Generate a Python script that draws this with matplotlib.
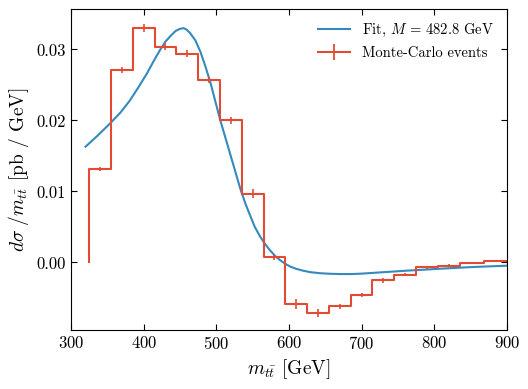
import matplotlib
matplotlib.use("Agg")
import matplotlib.pyplot as plt
from matplotlib.lines import Line2D
import numpy as np

plt.rcParams['font.family'] = 'cmr10'
plt.rcParams['mathtext.fontset'] = 'cm'
plt.rcParams['axes.formatter.use_mathtext'] = True

# histogram of Monte-Carlo events
bin_edges = [325, 355, 385, 415, 445, 475, 505, 535, 565, 595, 625, 655,
             685, 715, 745, 775, 805, 835, 868, 900]
mc_values = [0.0132, 0.0271, 0.0330, 0.0304, 0.0294, 0.0257, 0.0200, 0.0097,
             0.0007, -0.0059, -0.0071, -0.0062, -0.00455, -0.00253, -0.00173,
             -0.0007, -0.00046, -0.00014, 0.00014]
mc_errors = [0.0003, 0.0004, 0.0006, 0.0005, 0.0005, 0.0004, 0.0005, 0.0006,
             0.0004, 0.0007, 0.0006, 0.0004, 0.0003, 0.0003, 0.0002, 0.0002,
             0.0002, 0.0001, 0.0001]

# fitted curve
fit_x = [320, 337, 354, 368, 381, 393, 405, 414, 423, 430, 437, 444, 450,
         455, 459, 464, 471, 478, 485, 492, 505, 519, 533, 540, 547, 553,
         560, 567, 574, 581, 588, 595, 602, 610, 620, 630, 643, 657, 671,
         685, 698, 712, 726, 746, 767, 788, 808, 830, 850, 875, 900]
fit_y = [0.0163, 0.0179, 0.0196, 0.0211, 0.0228, 0.0247, 0.0267, 0.0284,
         0.0300, 0.0311, 0.0319, 0.0326, 0.0329, 0.0330, 0.0328, 0.0323,
         0.0313, 0.0297, 0.0276, 0.0253, 0.0202, 0.0153, 0.0104, 0.0083,
         0.0065, 0.0050, 0.0037, 0.0026, 0.0017, 0.0009, 0.0003, -0.0002,
         -0.0006, -0.0009, -0.00118, -0.00138, -0.00152, -0.0016, -0.00164,
         -0.00164, -0.00159, -0.0015, -0.0014, -0.00127, -0.00113,
         -0.00101, -0.00089, -0.00077, -0.00066, -0.00056, -0.00046]

blue = '#348ABD'
red = '#E24A33'

fig = plt.figure(figsize=(5.28, 3.89), dpi=100)
ax = fig.add_axes([0.1345, 0.152, 0.8255, 0.825])

ax.plot(fit_x, fit_y, color=blue, lw=1.5)

edges = np.array(bin_edges)
centers = 0.5 * (edges[:-1] + edges[1:])
ax.step(edges, [0] + mc_values, where='pre', color=red, lw=1.5)
ax.errorbar(centers, mc_values, yerr=mc_errors, fmt='none', ecolor=red,
            elinewidth=1.2)

handles = [Line2D([], [], color=blue, lw=1.5),
           Line2D([], [], color=red, lw=1.5, marker='|', markersize=11,
                  markeredgewidth=1.3)]
ax.legend(handles, [r'Fit, $M$ = 482.8 GeV', 'Monte-Carlo events'],
          loc='upper right', frameon=False, fontsize=10.5,
          handlelength=2.2)

ax.set_xlim(300, 900)
ax.set_ylim(-0.0095, 0.0357)
ax.set_yticks([0.0, 0.01, 0.02, 0.03])
ax.set_yticklabels(['0.00', '0.01', '0.02', '0.03'])
ax.tick_params(direction='in', top=True, right=True, labelsize=12, length=4)
ax.set_xlabel(r'$m_{t\bar{t}}$ [GeV]', fontsize=14)
ax.set_ylabel(r'$d\sigma\ /m_{t\bar{t}}$ [pb / GeV]', fontsize=14)

fig.savefig('out.png', dpi=100)
